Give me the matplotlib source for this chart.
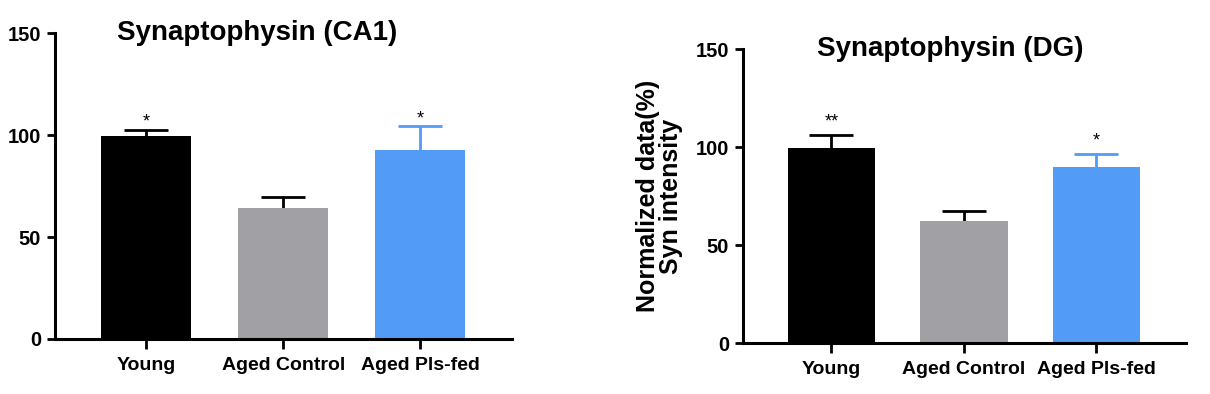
import matplotlib
matplotlib.use('Agg')
import matplotlib.pyplot as plt

plt.rcParams['font.family'] = ['Liberation Sans', 'DejaVu Sans']
plt.rcParams['font.weight'] = 'bold'

groups = ['Young', 'Aged Control', 'Aged Pls-fed']
colors = ['#000000', '#a0a0a5', '#529cf8']
err_colors = ['#000000', '#000000', '#529cf8']

ca1_mean = [99.3, 64.0, 92.6]
ca1_sem = [3.2, 5.8, 11.8]
ca1_stars = ['*', '', '*']

dg_mean = [99.6, 62.2, 90.0]
dg_sem = [6.4, 5.3, 6.4]
dg_stars = ['**', '', '*']

yticks = [0, 50, 100, 150]


def panel(ax, means, sems, stars, title, title_x, star_gap):
    x = range(len(groups))
    ax.bar(x, means, width=0.66, color=colors, zorder=2)
    for i in x:
        eb = ax.errorbar(i, means[i], yerr=[[0], [sems[i]]], fmt='none',
                         ecolor=err_colors[i], elinewidth=2, capsize=16,
                         capthick=2, zorder=1)
        eb[1][0].set_visible(False)  # no cap at the bar top
        if stars[i]:
            ax.text(i, means[i] + sems[i] + star_gap, stars[i], ha='center',
                    va='bottom', fontsize=13, fontweight='normal')
    ax.set_ylim(0, 150)
    ax.set_yticks(yticks)
    ax.set_xticks(list(x))
    ax.set_xticklabels(groups, fontsize=14)
    ax.spines['top'].set_visible(False)
    ax.spines['right'].set_visible(False)
    ax.spines['left'].set_linewidth(2.2)
    ax.spines['bottom'].set_linewidth(2.2)
    ax.tick_params(axis='y', length=6, width=2, labelsize=14.5, pad=4)
    ax.tick_params(axis='x', length=7, width=2, pad=6)
    ax.text(title_x, 150, title, ha='center', va='center', fontsize=20,
            fontweight='bold')


fig = plt.figure(figsize=(12.1, 3.94), dpi=100)
ax1 = fig.add_axes([0.0455, 0.1396, 0.3777, 0.7766])
ax2 = fig.add_axes([0.614, 0.1294, 0.3661, 0.7462])

panel(ax1, ca1_mean, ca1_sem, ca1_stars, 'Synaptophysin (CA1)', 0.81, -0.5)
ax1.set_xlim(-0.664, 2.67)
panel(ax2, dg_mean, dg_sem, dg_stars, 'Synaptophysin (DG)', 0.894, 2.5)
ax2.set_xlim(-0.668, 2.675)
ax2.set_ylabel('Normalized data(%)\nSyn intensity', fontsize=18,
               fontweight='bold', linespacing=0.95, labelpad=9)

fig.savefig('out.png', dpi=100)
